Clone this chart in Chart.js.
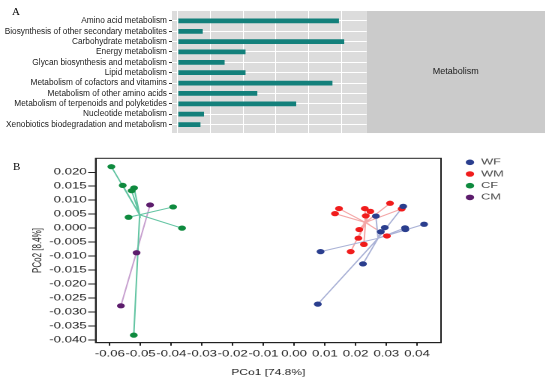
<!DOCTYPE html>
<html>
<head>
<meta charset="utf-8">
<script src="https://cdn.jsdelivr.net/npm/chart.js@4.4.0/dist/chart.umd.min.js"></script>
<style>
  body { margin: 0; background: #fff; }
  #page { position: relative; width: 550px; height: 382px; overflow: hidden; }
  .tag { position: absolute; font-family: "Liberation Serif", "Times New Roman", serif; font-size: 11px; line-height: 11px; color: #000; }
  #pcoaWrap { position: absolute; left: 0; top: 150px; width: 367px; height: 232px; transform: scaleX(1.5); transform-origin: 0 0; }
</style>
</head>
<body>
<div id="page">
  <canvas id="keggChart" width="550" height="140" style="position:absolute;left:0;top:0"></canvas>
  <div class="tag" style="left:12px;top:6px">A</div>
  <div id="pcoaWrap"><canvas id="pcoaChart" width="367" height="232"></canvas></div>
  <div class="tag" style="left:13px;top:161px">B</div>
</div>
<script>
// Panel A - KEGG level 2 pathways (all under Metabolism)
const pathways = [
  "Amino acid metabolism",
  "Biosynthesis of other secondary metabolites",
  "Carbohydrate metabolism",
  "Energy metabolism",
  "Glycan biosynthesis and metabolism",
  "Lipid metabolism",
  "Metabolism of cofactors and vitamins",
  "Metabolism of other amino acids",
  "Metabolism of terpenoids and polyketides",
  "Nucleotide metabolism",
  "Xenobiotics biodegradation and metabolism",
];
const pathwayValues = [4.93, 0.76, 5.09, 2.07, 1.43, 2.07, 4.73, 2.43, 3.62, 0.8, 0.69];
const pathwayGrid = [0, 1, 2, 3, 4, 5];
const levelOne = "Metabolism";

// Panel B - PCoA scores per group
const wfX = [0.0355, 0.0266, 0.0295, 0.0282, 0.0361, 0.0362, 0.0423, 0.0086, 0.0224, 0.0077];
const wfY = [0.0078, 0.0043, 0.0002, -0.0013, 0.0001, -0.0005, 0.0014, -0.0084, -0.0128, -0.0272];
const wmX = [0.0146, 0.0133, 0.023, 0.0248, 0.0312, 0.035, 0.0233, 0.0212, 0.0209, 0.0227, 0.0184, 0.0302];
const wmY = [0.007, 0.0052, 0.007, 0.006, 0.0089, 0.0069, 0.0044, -0.0005, -0.0036, -0.0058, -0.0084, -0.0028];
const cfX = [-0.0595, -0.0558, -0.0521, -0.0529, -0.0539, -0.0394, -0.0365, -0.0522];
const cfY = [0.022, 0.0153, 0.0144, 0.0134, 0.0039, 0.0076, 0.0, -0.0383];
const cmX = [-0.0469, -0.0513, -0.0564];
const cmY = [0.0083, -0.0088, -0.0278];
const pcoXTicks = [-0.06, -0.05, -0.04, -0.03, -0.02, -0.01, 0.0, 0.01, 0.02, 0.03, 0.04];
const pcoYTicks = [0.02, 0.015, 0.01, 0.005, 0.0, -0.005, -0.01, -0.015, -0.02, -0.025, -0.03, -0.035, -0.04];

Chart.defaults.font.family = "'Liberation Sans', Arial, sans-serif";
Chart.defaults.animation = false;

// grey ggplot-like panel + facet strip on the right
const panelBg = {
  id: "panelBg",
  beforeDraw(chart) {
    const { ctx, chartArea: a } = chart;
    const stripRight = chart.width - 5;
    ctx.save();
    ctx.fillStyle = "#dcdcdc";
    ctx.fillRect(a.left, a.top, a.width, a.height);
    ctx.fillStyle = "#cbcbcb";
    ctx.fillRect(a.right, a.top, stripRight - a.right, a.height);
    ctx.fillStyle = "#1a1a1a";
    ctx.font = "9px 'Liberation Sans', Arial, sans-serif";
    ctx.textAlign = "center";
    ctx.textBaseline = "middle";
    ctx.fillText(levelOne, (a.right + stripRight) / 2, (a.top + a.bottom) / 2);
    ctx.restore();
  },
};

new Chart(document.getElementById("keggChart"), {
  type: "bar",
  data: {
    datasets: [
      {
        data: pathwayValues.map((v, i) => ({ x: v, y: i })),
        backgroundColor: "#13807b",
        barPercentage: 0.46,
        categoryPercentage: 1,
      },
    ],
  },
  options: {
    responsive: false,
    indexAxis: "y",
    layout: { padding: { top: 11, right: 183.3, bottom: 5.7, left: 0 } },
    plugins: { legend: { display: false }, tooltip: { enabled: false } },
    scales: {
      x: {
        type: "linear",
        min: -0.18,
        max: 5.78,
        afterBuildTicks: (s) => { s.ticks = pathwayGrid.map((v) => ({ value: v })); },
        afterFit: (s) => { s.height = 0; },
        ticks: { display: false },
        grid: { color: "#ffffff", lineWidth: 1, drawTicks: false },
        border: { display: false },
      },
      y: {
        type: "linear",
        reverse: true,
        offset: false,
        min: -0.955,
        max: 10.82,
        afterBuildTicks: (s) => { s.ticks = pathways.map((p, i) => ({ value: i })); },
        afterFit: (s) => { s.width = 172; },
        ticks: {
          callback: (v) => pathways[v],
          autoSkip: false,
          color: "#1a1a1a",
          font: { size: 8.3 },
          padding: 2,
        },
        grid: { offset: false, color: "#ffffff", lineWidth: 1, tickLength: 3, tickColor: "#333333" },
        border: { display: false },
      },
    },
  },
  plugins: [panelBg],
});

// Panel B
function centroid(xs, ys) {
  const n = xs.length;
  return {
    x: xs.reduce((s, v) => s + v, 0) / n,
    y: ys.reduce((s, v) => s + v, 0) / n,
  };
}
function spider(xs, ys) {
  const c = centroid(xs, ys);
  const pts = [];
  xs.forEach((x, i) => { pts.push({ x: x, y: ys[i] }, { x: c.x, y: c.y }); });
  return pts;
}

const groups = [
  { name: "WF", xs: wfX, ys: wfY, color: "#2a3e8e", line: "#aab2d6" },
  { name: "WM", xs: wmX, ys: wmY, color: "#f01c1c", line: "#f4a6a6" },
  { name: "CF", xs: cfX, ys: cfY, color: "#0e8a3e", line: "#62c4a2" },
  { name: "CM", xs: cmX, ys: cmY, color: "#5c1c6c", line: "#c7a0cf" },
];

const pointSets = groups.map((g) => ({
  label: g.name,
  data: g.xs.map((x, i) => ({ x: x, y: g.ys[i] })),
  pointRadius: 2.6,
  pointBackgroundColor: g.color,
  pointBorderWidth: 0,
  showLine: false,
  order: 0,
}));
const lineSets = groups.map((g) => ({
  label: g.name + " spider",
  data: spider(g.xs, g.ys),
  showLine: true,
  borderColor: g.line,
  borderWidth: 1,
  pointRadius: 0,
  order: 1,
}));

const frameBox = {
  id: "frameBox",
  afterDraw(chart) {
    const { ctx, chartArea: a } = chart;
    ctx.save();
    ctx.strokeStyle = "#222";
    ctx.lineWidth = 1;
    ctx.strokeRect(a.left, a.top, a.width, a.height);
    ctx.restore();
  },
};

const dotLegend = {
  id: "dotLegend",
  afterDraw(chart) {
    const { ctx, chartArea: a } = chart;
    ctx.save();
    ctx.font = "8.5px 'Liberation Sans', Arial, sans-serif";
    ctx.textBaseline = "middle";
    groups.forEach((g, i) => {
      const cx = a.right + 19.3;
      const cy = a.top + 4 + i * 11.7;
      ctx.fillStyle = g.color;
      ctx.beginPath();
      ctx.arc(cx, cy, 2.8, 0, Math.PI * 2);
      ctx.fill();
      ctx.fillStyle = "#4a4a4a";
      ctx.fillText(g.name, cx + 7.4, cy);
    });
    ctx.restore();
  },
};

new Chart(document.getElementById("pcoaChart"), {
  type: "scatter",
  data: { datasets: pointSets.concat(lineSets) },
  options: {
    responsive: false,
    devicePixelRatio: 2,
    layout: { padding: { top: 8.3, right: 73, bottom: 0, left: 0 } },
    plugins: { legend: { display: false }, tooltip: { enabled: false } },
    scales: {
      x: {
        type: "linear",
        min: -0.0646,
        max: 0.0478,
        afterBuildTicks: (s) => { s.ticks = pcoXTicks.map((v) => ({ value: v })); },
        afterFit: (s) => { s.height = 39.3; },
        ticks: {
          callback: (v) => v.toFixed(2),
          autoSkip: false,
          maxRotation: 0,
          color: "#222",
          font: { size: 8.8 },
          padding: 3,
        },
        grid: { drawOnChartArea: false, tickLength: 3, tickColor: "#222" },
        border: { display: true, color: "#222", width: 1 },
        title: {
          display: true,
          text: "PCo1 [74.8%]",
          color: "#222",
          font: { size: 8 },
          padding: { top: 0, bottom: 4.5 },
        },
      },
      y: {
        type: "linear",
        min: -0.041,
        max: 0.025,
        afterBuildTicks: (s) => { s.ticks = pcoYTicks.map((v) => ({ value: v })); },
        afterFit: (s) => { s.width = 63.8; },
        ticks: {
          callback: (v) => v.toFixed(3),
          autoSkip: false,
          color: "#222",
          font: { size: 8.8 },
          padding: 1,
        },
        grid: { drawOnChartArea: false, tickLength: 5, tickColor: "#222" },
        border: { display: true, color: "#222", width: 1 },
        title: {
          display: true,
          text: "PCo2 [8.4%]",
          color: "#222",
          font: { size: 8 },
          padding: { top: 20.3, bottom: 0 },
        },
      },
    },
  },
  plugins: [frameBox, dotLegend],
});
</script>
</body>
</html>
